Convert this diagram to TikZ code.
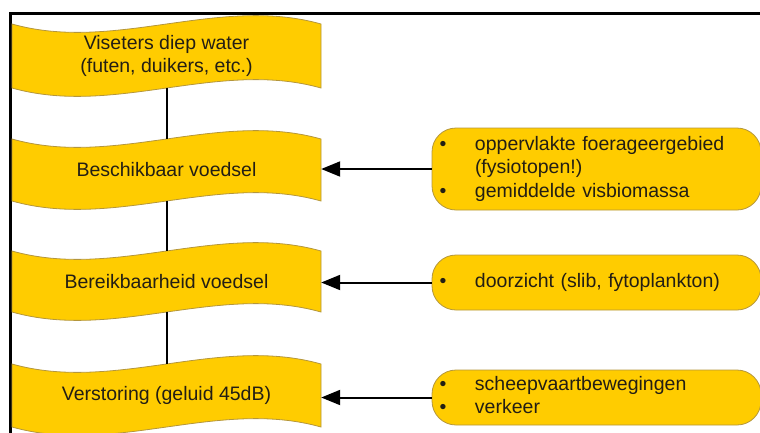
\documentclass[tikz,border=0pt]{standalone}
\usepackage{fontspec}
\setmainfont{Liberation Sans}
\usetikzlibrary{arrows.meta}

\definecolor{gold}{RGB}{255,204,0}
\definecolor{goldedge}{RGB}{180,150,60}
\definecolor{ink}{RGB}{35,30,20}

% amplitude of the control points of a wavy edge
\newcommand\wamp{29}

% #1 name, #2 left, #3 top, #4 right, #5 bottom, #6 text
\newcommand\wavebox[6]{%
  \filldraw[wavefill]
    (#2,#3) .. controls ({#2+(#4-#2)/3},{#3+\wamp}) and ({#2+2*(#4-#2)/3},{#3-\wamp}) .. (#4,#3)
    -- (#4,#5) .. controls ({#2+2*(#4-#2)/3},{#5-\wamp}) and ({#2+(#4-#2)/3},{#5+\wamp}) .. (#2,#5)
    -- cycle;
  \node[wavetext, minimum width={#4pt-#2pt}, minimum height={#5pt-#3pt}]
    (#1) at ({(#2+#4)/2},{(#3+#5)/2}) {#6};}

\tikzset{
  wavefill/.style={fill=gold, draw=goldedge, line width=0.8pt},
  wavetext/.style={draw=none, inner sep=0pt, align=center, text=ink,
    font=\fontsize{19.5}{22.5}\selectfont},
  factor/.style={fill=gold, draw=goldedge, line width=0.8pt, rounded corners=24pt,
    minimum width=329pt, inner xsep=7.5pt, inner ysep=0pt, text=ink,
    text width=314pt, align=left, font=\fontsize{19.5}{23.5}\selectfont},
  link/.style={draw=black, line width=2pt},
  feed/.style={draw=black, line width=2pt, -{Triangle[length=19pt,width=15pt]}},
  frame/.style={draw=black, line width=3pt, line join=miter}
}

\begin{document}
\begin{tikzpicture}[x=1pt,y=-1pt]
\useasboundingbox (0,0) rectangle (760,432);
\clip (0,0) rectangle (760,432);

% outer frame (open to the right and the bottom)
\draw[frame] (10,445) -- (10,13) -- (775,13);

% chain of wavy boxes
\wavebox{w1}{12}{24}{321}{88}{Viseters diep water\\(futen, duikers, etc.)}
\wavebox{w2}{12}{139}{321}{201}{Beschikbaar voedsel}
\wavebox{w3}{12}{251}{321}{312}{Bereikbaarheid voedsel}
\wavebox{w4}{12}{364}{321}{427}{Verstoring (geluid 45dB)}

\draw[link] (w1.south) -- (w2.north);
\draw[link] (w2.south) -- (w3.north);
\draw[link] (w3.south) -- (w4.north);

% factors on the right
\node[factor, minimum height=82pt] (b1) at (596.5,169)
  {\begin{tabular}{@{}p{35.5pt}@{}l@{}}
   \textbullet & oppervlakte foerageergebied\\
               & (fysiotopen!)\\
   \textbullet & gemiddelde visbiomassa
   \end{tabular}};
\node[factor, minimum height=55pt] (b2) at (596.5,282.5)
  {\begin{tabular}{@{}p{35.5pt}@{}l@{}}
   \textbullet & doorzicht (slib, fytoplankton)
   \end{tabular}};
\node[factor, minimum height=55pt] (b3) at (596.5,397.5)
  {\begin{tabular}{@{}p{35.5pt}@{}l@{}}
   \textbullet & scheepvaartbewegingen\\
   \textbullet & verkeer
   \end{tabular}};

\draw[feed] (b1.west) -- (b1.west -| w2.east);
\draw[feed] (b2.west) -- (b2.west -| w3.east);
\draw[feed] (b3.west) -- (b3.west -| w4.east);
\end{tikzpicture}
\end{document}
